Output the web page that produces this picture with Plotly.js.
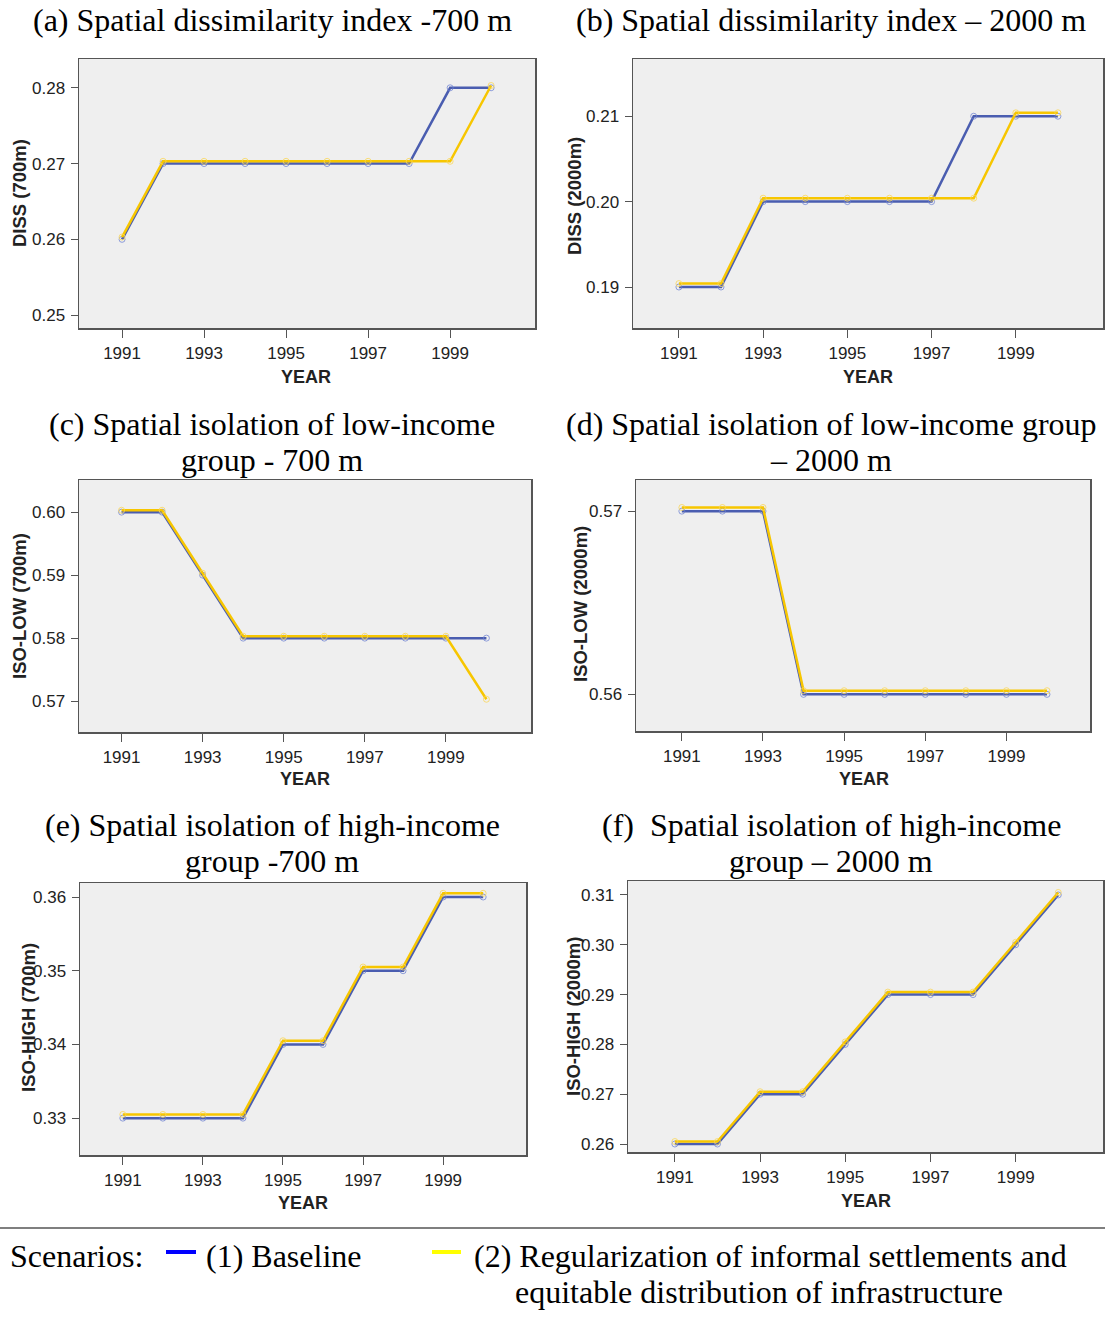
<!DOCTYPE html>
<html>
<head>
<meta charset="utf-8">
<script src="https://cdn.plot.ly/plotly-3.0.1.min.js"></script>
<style>html,body{margin:0;padding:0;background:#fff;}#chart{width:1105px;height:1317px;}</style>
</head>
<body>
<div id="chart"></div>
<script>
// ---------------- DATA ----------------
const years = [1991, 1992, 1993, 1994, 1995, 1996, 1997, 1998, 1999, 2000];
const yearTicks = [1991, 1993, 1995, 1997, 1999];

const dissBaseline700 = [0.260, 0.270, 0.270, 0.270, 0.270, 0.270, 0.270, 0.270, 0.280, 0.280];
const dissScenario700 = [0.2603, 0.2703, 0.2703, 0.2703, 0.2703, 0.2703, 0.2703, 0.2703, 0.2703, 0.2803];

const dissBaseline2000 = [0.190, 0.190, 0.200, 0.200, 0.200, 0.200, 0.200, 0.210, 0.210, 0.210];
const dissScenario2000 = [0.1904, 0.1904, 0.2004, 0.2004, 0.2004, 0.2004, 0.2004, 0.2004, 0.2104, 0.2104];

const isoLowBaseline700 = [0.600, 0.600, 0.590, 0.580, 0.580, 0.580, 0.580, 0.580, 0.580, 0.580];
const isoLowScenario700 = [0.6003, 0.6003, 0.5903, 0.5803, 0.5803, 0.5803, 0.5803, 0.5803, 0.5803, 0.5703];

const isoLowBaseline2000 = [0.570, 0.570, 0.570, 0.560, 0.560, 0.560, 0.560, 0.560, 0.560, 0.560];
const isoLowScenario2000 = [0.5702, 0.5702, 0.5702, 0.5602, 0.5602, 0.5602, 0.5602, 0.5602, 0.5602, 0.5602];

const isoHighBaseline700 = [0.330, 0.330, 0.330, 0.330, 0.340, 0.340, 0.350, 0.350, 0.360, 0.360];
const isoHighScenario700 = [0.3305, 0.3305, 0.3305, 0.3305, 0.3405, 0.3405, 0.3505, 0.3505, 0.3605, 0.3605];

const isoHighBaseline2000 = [0.260, 0.260, 0.270, 0.270, 0.280, 0.290, 0.290, 0.290, 0.300, 0.310];
const isoHighScenario2000 = [0.2605, 0.2605, 0.2705, 0.2705, 0.2805, 0.2905, 0.2905, 0.2905, 0.3005, 0.3105];

const panelTitles = [
  ["(a) Spatial dissimilarity index -700 m"],
  ["(b) Spatial dissimilarity index – 2000 m"],
  ["(c) Spatial isolation of low-income", "group - 700 m"],
  ["(d) Spatial isolation of low-income group", "– 2000 m"],
  ["(e) Spatial isolation of high-income", "group -700 m"],
  ["(f)  Spatial isolation of high-income", "group – 2000 m"]
];
const yTitles = ["DISS (700m)", "DISS (2000m)", "ISO-LOW (700m)", "ISO-LOW (2000m)", "ISO-HIGH (700m)", "ISO-HIGH (2000m)"];
const xTitle = "YEAR";
const legendLead = "Scenarios:";
const seriesNames = ["(1) Baseline", "(2) Regularization of informal settlements and", "equitable distribution of infrastructure"];

const baselineSeries = [dissBaseline700, dissBaseline2000, isoLowBaseline700, isoLowBaseline2000, isoHighBaseline700, isoHighBaseline2000];
const scenarioSeries = [dissScenario700, dissScenario2000, isoLowScenario700, isoLowScenario2000, isoHighScenario700, isoHighScenario2000];
const yTickValues = [
  [0.25, 0.26, 0.27, 0.28],
  [0.19, 0.20, 0.21],
  [0.57, 0.58, 0.59, 0.60],
  [0.56, 0.57],
  [0.33, 0.34, 0.35, 0.36],
  [0.26, 0.27, 0.28, 0.29, 0.30, 0.31]
];

// ---------------- LAYOUT (pixel geometry) ----------------
const W = 1105, H = 1317;
// plot boxes: [left, right, top, bottom] in px
const boxes = [
  [79, 535, 59, 328],
  [633, 1103, 59, 328],
  [79, 531, 480, 732],
  [636, 1090, 480, 731],
  [80, 526, 883, 1155],
  [628, 1103, 881, 1152]
];
const xRanges = [
  [1989.95, 2001.07], [1989.91, 2001.07], [1989.95, 2001.1],
  [1989.87, 2001.06], [1989.93, 2001.07], [1989.9, 2001.05]
];
const yRanges = [
  [0.2483, 0.2838], [0.1852, 0.2167], [0.5651, 0.6051],
  [0.5580, 0.5717], [0.3250, 0.3619], [0.2584, 0.3128]
];
// panel title centers (x px, first line y px); second line is 36 px lower
const titlePos = [[272, 20], [831, 20], [272, 424], [831, 424], [272, 825], [831, 825]];
const titleLineGap = 36;
// y title centers
const yTitlePos = [[19, 193], [574, 196], [19, 606], [580, 604], [28, 1018], [573, 1017]];
// YEAR centers
const xTitlePos = [[306, 377], [868, 377], [305, 779], [864, 779], [303, 1203], [866, 1201]];

const blue = "#4a5db0";
const yellow = "#f7c600";
const sansFont = "Liberation Sans, Arial, sans-serif";
const serifFont = "Liberation Serif, Times New Roman, serif";
const titleFont = {family: serifFont, size: 32, color: "#000"};

const traces = [];
const layout = {
  width: W, height: H,
  margin: {l: 0, r: 0, t: 0, b: 0},
  paper_bgcolor: "#ffffff",
  plot_bgcolor: "#efefef",
  showlegend: false,
  annotations: [],
  shapes: []
};

function px(x, y) { return {x: x / W, y: 1 - y / H}; }

for (let i = 0; i < 6; i++) {
  const n = i === 0 ? "" : String(i + 1);
  const xa = "x" + n, ya = "y" + n;
  const [l, r, t, b] = boxes[i];
  traces.push({
    x: years, y: baselineSeries[i], xaxis: xa, yaxis: ya,
    type: "scatter", mode: "lines+markers",
    line: {color: blue, width: 2.5},
    marker: {symbol: "circle-open", size: 6, color: "rgba(110,130,210,0.75)", line: {width: 1}},
    name: seriesNames[0], hoverinfo: "x+y"
  });
  traces.push({
    x: years, y: scenarioSeries[i], xaxis: xa, yaxis: ya,
    type: "scatter", mode: "lines+markers",
    line: {color: yellow, width: 2.5},
    marker: {symbol: "circle-open", size: 6, color: "rgba(250,215,90,0.8)", line: {width: 1}},
    name: seriesNames[1], hoverinfo: "x+y"
  });
  layout["xaxis" + n] = {
    domain: [l / W, r / W], anchor: ya, range: xRanges[i],
    tickvals: yearTicks, ticktext: yearTicks.map(String),
    ticks: "outside", ticklen: 8, tickwidth: 1, tickcolor: "#555",
    ticklabelstandoff: 1,
    showline: true, mirror: true, linecolor: "#555", linewidth: 1.5,
    showgrid: false, zeroline: false,
    tickfont: {family: sansFont, size: 17, color: "#222"}
  };
  layout["yaxis" + n] = {
    domain: [1 - b / H, 1 - t / H], anchor: xa, range: yRanges[i],
    tickvals: yTickValues[i], tickformat: ".2f",
    ticks: "outside", ticklen: 7, tickwidth: 1, tickcolor: "#555",
    ticklabelstandoff: 2,
    showline: true, mirror: true, linecolor: "#555", linewidth: 1.5,
    showgrid: false, zeroline: false,
    tickfont: {family: sansFont, size: 17, color: "#222"}
  };
  panelTitles[i].forEach((line, k) => {
    const p = px(titlePos[i][0], titlePos[i][1] + k * titleLineGap);
    layout.annotations.push({
      xref: "paper", yref: "paper", x: p.x, y: p.y,
      xanchor: "center", yanchor: "middle", showarrow: false,
      text: line, font: titleFont
    });
  });
  const pyt = px(yTitlePos[i][0], yTitlePos[i][1]);
  layout.annotations.push({
    xref: "paper", yref: "paper", x: pyt.x, y: pyt.y,
    xanchor: "center", yanchor: "middle", showarrow: false, textangle: -90,
    text: "<b>" + yTitles[i] + "</b>", font: {family: sansFont, size: 18.5, color: "#222"}
  });
  const pxt = px(xTitlePos[i][0], xTitlePos[i][1]);
  layout.annotations.push({
    xref: "paper", yref: "paper", x: pxt.x, y: pxt.y,
    xanchor: "center", yanchor: "middle", showarrow: false,
    text: "<b>" + xTitle + "</b>", font: {family: sansFont, size: 18, color: "#222"}
  });
}

// separator line & legend
layout.shapes.push({type: "line", xref: "paper", yref: "paper", x0: 0, x1: 1, y0: 1 - 1228 / H, y1: 1 - 1228 / H, line: {color: "#000", width: 1.2}});
layout.shapes.push({type: "line", xref: "paper", yref: "paper", x0: 166 / W, x1: 196 / W, y0: 1 - 1252 / H, y1: 1 - 1252 / H, line: {color: "#0000ff", width: 4}});
layout.shapes.push({type: "line", xref: "paper", yref: "paper", x0: 432 / W, x1: 461 / W, y0: 1 - 1252 / H, y1: 1 - 1252 / H, line: {color: "#ffff00", width: 4}});
const legendFont = {family: serifFont, size: 32, color: "#000"};
layout.annotations.push({xref: "paper", yref: "paper", x: 8 / W, y: 1 - 1256 / H, xanchor: "left", yanchor: "middle", showarrow: false, text: legendLead, font: legendFont});
layout.annotations.push({xref: "paper", yref: "paper", x: 204 / W, y: 1 - 1256 / H, xanchor: "left", yanchor: "middle", showarrow: false, text: seriesNames[0], font: legendFont});
layout.annotations.push({xref: "paper", yref: "paper", x: 472 / W, y: 1 - 1256 / H, xanchor: "left", yanchor: "middle", showarrow: false, text: seriesNames[1], font: legendFont});
layout.annotations.push({xref: "paper", yref: "paper", x: 513 / W, y: 1 - 1292 / H, xanchor: "left", yanchor: "middle", showarrow: false, text: seriesNames[2], font: legendFont});

Plotly.newPlot("chart", traces, layout, {displayModeBar: false, staticPlot: true});
</script>
</body>
</html>
